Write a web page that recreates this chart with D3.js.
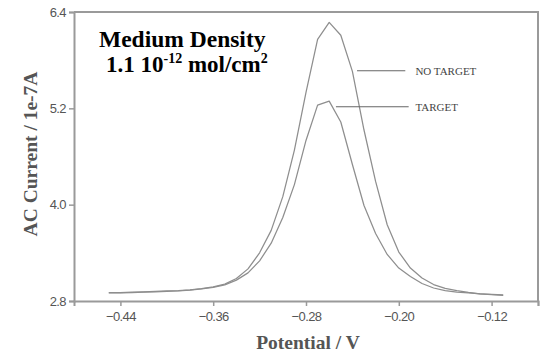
<!DOCTYPE html>
<html>
<head>
<meta charset="utf-8">
<script src="https://cdn.jsdelivr.net/npm/d3@7/dist/d3.min.js"></script>
<style>
  html, body { margin: 0; padding: 0; background: #fff; }
  svg { display: block; }
  .serif { font-family: "Liberation Serif", "Times New Roman", serif; }
  .sans { font-family: "Liberation Sans", Arial, sans-serif; }
</style>
</head>
<body>
<svg id="chart" width="548" height="358"></svg>
<script>
// AC voltammetry, medium probe density: potential (V) vs AC current (1e-7 A)
const potential = [-0.45, -0.44, -0.43, -0.42, -0.41, -0.40, -0.39, -0.38, -0.37, -0.36,
                   -0.35, -0.34, -0.33, -0.32, -0.31, -0.30, -0.29, -0.28, -0.27, -0.26,
                   -0.25, -0.24, -0.23, -0.22, -0.21, -0.20, -0.19, -0.18, -0.17, -0.16,
                   -0.15, -0.14, -0.13, -0.12, -0.11];
const noTarget = [2.905, 2.905, 2.91, 2.915, 2.92, 2.925, 2.93, 2.94, 2.955, 2.975,
                  3.01, 3.08, 3.20, 3.40, 3.68, 4.10, 4.68, 5.40, 6.06, 6.27,
                  6.11, 5.66, 4.93, 4.29, 3.75, 3.41, 3.21, 3.086, 3.005, 2.958,
                  2.93, 2.906, 2.89, 2.878, 2.871];
const target = [2.90, 2.90, 2.905, 2.91, 2.915, 2.92, 2.925, 2.935, 2.95, 2.97,
                3.00, 3.06, 3.15, 3.30, 3.52, 3.84, 4.25, 4.80, 5.24, 5.29,
                5.03, 4.50, 3.99, 3.64, 3.38, 3.21, 3.106, 3.018, 2.962, 2.93,
                2.912, 2.90, 2.89, 2.881, 2.875];

const xTicks = [-0.44, -0.36, -0.28, -0.20, -0.12];
const yTicks = [2.8, 4.0, 5.2, 6.4];
const xDomain = [-0.48, -0.08];
const yDomain = [2.8, 6.4];

// curve labels: leader line span (V), leader level (1e-7 A), text start (V)
const seriesLabels = ["NO TARGET", "TARGET"];
const leaderFrom = [-0.236, -0.2542];
const leaderTo = [-0.1944, -0.1915];
const leaderLevel = [5.668, 5.22];
const labelAt = [-0.1857, -0.1857];

const svg = d3.select("#chart");
const margin = { top: 12, right: 10, bottom: 57, left: 74 };
const W = 548, H = 358;

const x = d3.scaleLinear().domain(xDomain).range([margin.left, W - margin.right]);
const y = d3.scaleLinear().domain(yDomain).range([H - margin.bottom, margin.top]);

const axisColor = "#9a9a9a";
const labelColor = "#555";

// frame (top and right)
svg.append("path")
  .attr("d", `M${x(xDomain[0])},${y(yDomain[1])}H${x(xDomain[1])}V${y(yDomain[0])}`)
  .attr("fill", "none").attr("stroke", axisColor).attr("stroke-width", 2);

// x axis
const xAxis = svg.append("g")
  .attr("transform", `translate(0,${y(yDomain[0])})`)
  .call(d3.axisBottom(x).tickValues(xTicks.concat([xDomain[1]]))
    .tickFormat(d => xTicks.includes(d) ? d3.format(".2f")(d) : "")
    .tickSizeOuter(0).tickSize(5).tickPadding(6));

// y axis
const yAxis = svg.append("g")
  .attr("transform", `translate(${x(xDomain[0])},0)`)
  .call(d3.axisLeft(y).tickValues(yTicks).tickFormat(d3.format(".1f"))
    .tickSizeOuter(0).tickSize(5).tickPadding(3));

[xAxis, yAxis].forEach(g => {
  g.attr("font-family", null);
  g.select(".domain").attr("stroke", axisColor).attr("stroke-width", 2);
  g.selectAll(".tick line").attr("stroke", axisColor).attr("stroke-width", 1.5);
  g.selectAll(".tick text")
    .attr("class", "sans")
    .attr("fill", labelColor)
    .attr("font-size", 13)
    .attr("letter-spacing", -0.6);
});

// curves
const line = d3.line()
  .x((d, i) => x(potential[i]))
  .y(d => y(d))
  .curve(d3.curveLinear);

[noTarget, target].forEach(s => {
  svg.append("path")
    .datum(s)
    .attr("d", line)
    .attr("fill", "none")
    .attr("stroke", "#8e8e8e")
    .attr("stroke-width", 1.25)
    .attr("stroke-linejoin", "round");
});

// curve labels with leader lines
seriesLabels.forEach((t, i) => {
  svg.append("line")
    .attr("x1", x(leaderFrom[i])).attr("x2", x(leaderTo[i]))
    .attr("y1", y(leaderLevel[i])).attr("y2", y(leaderLevel[i]))
    .attr("stroke", "#666").attr("stroke-width", 1.1);
  svg.append("text")
    .attr("class", "serif")
    .attr("x", x(labelAt[i]))
    .attr("y", y(leaderLevel[i]) + 4)
    .attr("font-size", 11)
    .attr("fill", "#444")
    .text(t);
});

// title block
svg.append("text")
  .attr("class", "serif")
  .attr("x", 99).attr("y", 47)
  .attr("font-weight", "bold").attr("font-size", 23.5).attr("fill", "#000")
  .text("Medium Density");

const sub = svg.append("text")
  .attr("class", "serif")
  .attr("x", 106).attr("y", 72)
  .attr("font-weight", "bold").attr("font-size", 23).attr("fill", "#000");
sub.append("tspan").text("1.1 10");
sub.append("tspan").attr("font-size", 14).attr("dy", -9).text("-12");
sub.append("tspan").attr("dy", 9).text(" mol/cm");
sub.append("tspan").attr("font-size", 14).attr("dy", -9).text("2");

// axis titles
svg.append("text")
  .attr("class", "serif")
  .attr("x", (x(xDomain[0]) + x(xDomain[1])) / 2 + 2)
  .attr("y", 349)
  .attr("text-anchor", "middle")
  .attr("font-weight", "bold").attr("font-size", 19.5).attr("fill", labelColor)
  .text("Potential / V");

svg.append("text")
  .attr("class", "serif")
  .attr("transform", "translate(37,154) rotate(-90)")
  .attr("text-anchor", "middle")
  .attr("font-weight", "bold").attr("font-size", 19.5).attr("fill", labelColor)
  .text("AC Current / 1e-7A");
</script>
</body>
</html>
